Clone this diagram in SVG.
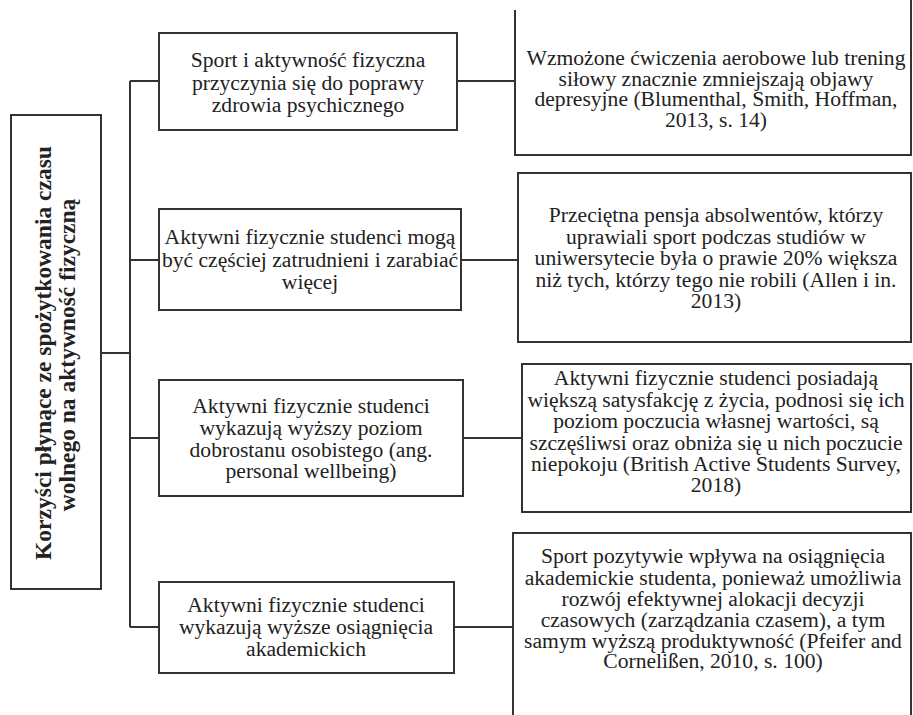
<svg xmlns="http://www.w3.org/2000/svg" width="913" height="715" viewBox="0 0 913 715">
<style>
.box{fill:#fff;stroke:#333;stroke-width:2}
.edge{fill:none;stroke:#333;stroke-width:2}
.conn{fill:none;stroke:#333;stroke-width:2}
text{font-family:"Liberation Serif","Times New Roman",serif;font-size:21.6px;fill:#222;text-anchor:middle}
.bold{font-weight:bold;font-size:23.5px}
</style>
<rect width="913" height="715" fill="#fff"/>
<g id="connectors">
<path class="conn" d="M101,353 H130 M130,81 V627 M130,81 H159 M130,260 H159 M130,438 H159 M130,627 H159"/>
<path class="conn" d="M457,81 H515 M461,260 H518 M463,438 H522 M454,627 H513"/>
</g>
<g id="root">
<rect class="box" x="11" y="115" width="90" height="474"/>
<text class="bold" transform="translate(51,353) rotate(-90)">Korzyści płynące ze spożytkowania czasu</text>
<text class="bold" transform="translate(75,355) rotate(-90)">wolnego na aktywność fizyczną</text>
</g>
<g id="m1">
<rect class="box" x="159" y="33" width="298" height="97"/>
<text x="308" y="67">Sport i aktywność fizyczna</text>
<text x="308" y="89.5">przyczynia się do poprawy</text>
<text x="308" y="112">zdrowia psychicznego</text>
</g>
<g id="m2">
<rect class="box" x="159" y="209" width="302" height="101"/>
<text x="310" y="244">Aktywni fizycznie studenci mogą</text>
<text x="310" y="266.5">być częściej zatrudnieni i zarabiać</text>
<text x="310" y="289">więcej</text>
</g>
<g id="m3">
<rect class="box" x="159" y="380" width="304" height="116"/>
<text x="311" y="413">Aktywni fizycznie studenci</text>
<text x="311" y="435">wykazują wyższy poziom</text>
<text x="311" y="457">dobrostanu osobistego (ang.</text>
<text x="311" y="478">personal wellbeing)</text>
</g>
<g id="m4">
<rect class="box" x="159" y="582" width="295" height="91"/>
<text x="306" y="612">Aktywni fizycznie studenci</text>
<text x="306" y="634">wykazują wyższe osiągnięcia</text>
<text x="306" y="656">akademickich</text>
</g>
<g id="r1">
<path class="edge" d="M515,10 V155 H911 V0"/>
<text x="716" y="65">Wzmożone ćwiczenia aerobowe lub trening</text>
<text x="716" y="85.5">siłowy znacznie zmniejszają objawy</text>
<text x="716" y="106">depresyjne (Blumenthal, Smith, Hoffman,</text>
<text x="716" y="126.5">2013, s. 14)</text>
</g>
<g id="r2">
<rect class="box" x="518" y="173" width="393" height="169"/>
<text x="716" y="222">Przeciętna pensja absolwentów, którzy</text>
<text x="716" y="243.5">uprawiali sport podczas studiów w</text>
<text x="716" y="265">uniwersytecie była o prawie 20% większa</text>
<text x="716" y="286.5">niż tych, którzy tego nie robili (Allen i in.</text>
<text x="716" y="308">2013)</text>
</g>
<g id="r3">
<rect class="box" x="522" y="364" width="389" height="148"/>
<text x="716" y="385">Aktywni fizycznie studenci posiadają</text>
<text x="716" y="406.5">większą satysfakcję z życia, podnosi się ich</text>
<text x="716" y="428">poziom poczucia własnej wartości, są</text>
<text x="716" y="449.5">szczęśliwsi oraz obniża się u nich poczucie</text>
<text x="716" y="471">niepokoju (British Active Students Survey,</text>
<text x="716" y="492">2018)</text>
</g>
<g id="r4">
<path class="edge" d="M513,716 V533 H911 V716"/>
<text x="713" y="563">Sport pozytywie wpływa na osiągnięcia</text>
<text x="713" y="584.5">akademickie studenta, ponieważ umożliwia</text>
<text x="713" y="606">rozwój efektywnej alokacji decyzji</text>
<text x="713" y="627">czasowych (zarządzania czasem), a tym</text>
<text x="713" y="648">samym wyższą produktywność (Pfeifer and</text>
<text x="713" y="668">Cornelißen, 2010, s. 100)</text>
</g>
</svg>
